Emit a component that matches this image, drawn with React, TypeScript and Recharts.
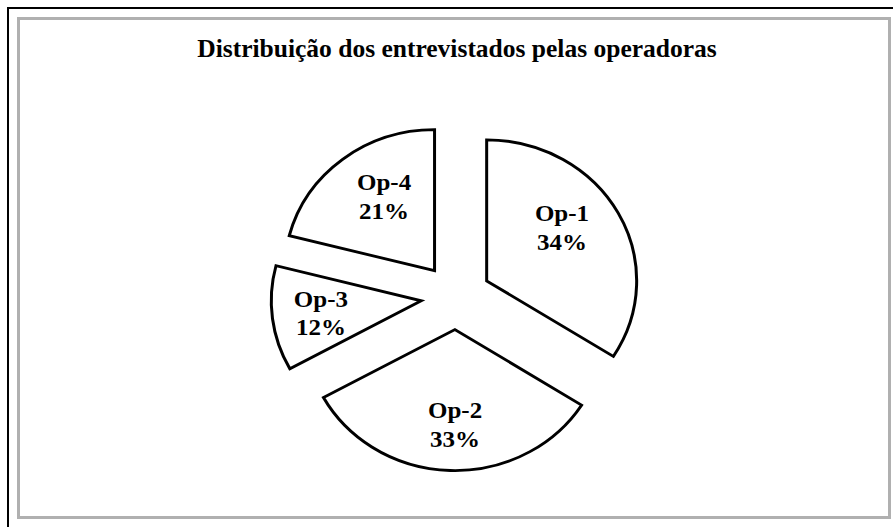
import React from 'react';
import { PieChart, Pie, Cell } from 'recharts';

const OPERATORS = ['Op-1', 'Op-2', 'Op-3', 'Op-4'];
const SHARES = [34, 33, 12, 21];

const TITLE = 'Distribuição dos entrevistados pelas operadoras';

// layout / style
const CX = 451;
const CY = 292;
const RADIUS = 150;
const SQUASH = 0.94; // the source picture is slightly stretched sideways
const EXPLODE = 35;
// label placement per slice: fraction of radius, angle nudge (deg)
const LABEL_POS = [0.607, 0.71, 0.68, 0.594];
const LABEL_TURN = [5.4, 1.9, 3, -3.3];
const SERIF = '"Liberation Serif", "Times New Roman", serif';

const data = OPERATORS.map((name, i) => ({ name, value: SHARES[i] }));
const total = SHARES.reduce((a, b) => a + b, 0);

// mid angle (degrees) for each slice, starting at 12 o'clock going clockwise
const midAngles = (() => {
  let acc = 0;
  return SHARES.map((v) => {
    const start = 90 - (360 * acc) / total;
    acc += v;
    return start - (180 * v) / total;
  });
})();

const RAD = Math.PI / 180;

const makeLabel = (k: number) => (props: any) => {
  const { cx, cy, midAngle, outerRadius, index, percent } = props;
  if (index !== k) return null;
  const r = outerRadius * LABEL_POS[k];
  const a = (midAngle + LABEL_TURN[k]) * RAD;
  const x = cx + r * Math.cos(-a);
  const y = cy + r * Math.sin(-a);
  return (
    <text
      x={x}
      y={y}
      textAnchor="middle"
      fontFamily={SERIF}
      fontWeight="bold"
      fontSize={25}
      fill="#000"
    >
      <tspan x={x} dy={-12}>{OPERATORS[index]}</tspan>
      <tspan x={x} dy={30}>{`${Math.round(percent * 100)}%`}</tspan>
    </text>
  );
};

export default function App() {
  return (
    <div
      style={{
        position: 'absolute',
        left: 0,
        top: 0,
        width: 893,
        height: 527,
        overflow: 'hidden',
        background: '#fff',
      }}
    >
      <div
        style={{
          position: 'absolute',
          left: 7,
          top: 7,
          width: 920,
          height: 560,
          border: '2px solid #000',
          boxSizing: 'border-box',
        }}
      />
      <div
        style={{
          position: 'absolute',
          left: 17,
          top: 17,
          width: 874,
          height: 502,
          border: '3px solid #b0b0b0',
          boxSizing: 'border-box',
        }}
      />
      <div
        style={{
          position: 'absolute',
          left: 0,
          top: 36,
          width: 914,
          textAlign: 'center',
          fontFamily: SERIF,
          fontWeight: 'bold',
          fontSize: 25.5,
          lineHeight: '25px',
          color: '#000',
          whiteSpace: 'nowrap',
        }}
      >
        {TITLE}
      </div>
      <div
        style={{
          position: 'absolute',
          left: 0,
          top: 0,
          transform: `scaleY(${SQUASH})`,
          transformOrigin: `0 ${CY}px`,
        }}
      >
        <PieChart width={893} height={527}>
          {OPERATORS.map((op, k) => (
            <Pie
              key={op}
              data={data}
              dataKey="value"
              nameKey="name"
              cx={CX + EXPLODE * Math.cos(midAngles[k] * RAD)}
              cy={CY - EXPLODE * Math.sin(midAngles[k] * RAD)}
              outerRadius={RADIUS}
              startAngle={90}
              endAngle={-270}
              isAnimationActive={false}
              labelLine={false}
              label={makeLabel(k)}
            >
              {data.map((d, i) => (
                <Cell
                  key={d.name}
                  fill={i === k ? '#fff' : 'none'}
                  stroke={i === k ? '#000' : 'none'}
                  strokeWidth={3}
                />
              ))}
            </Pie>
          ))}
        </PieChart>
      </div>
    </div>
  );
}
